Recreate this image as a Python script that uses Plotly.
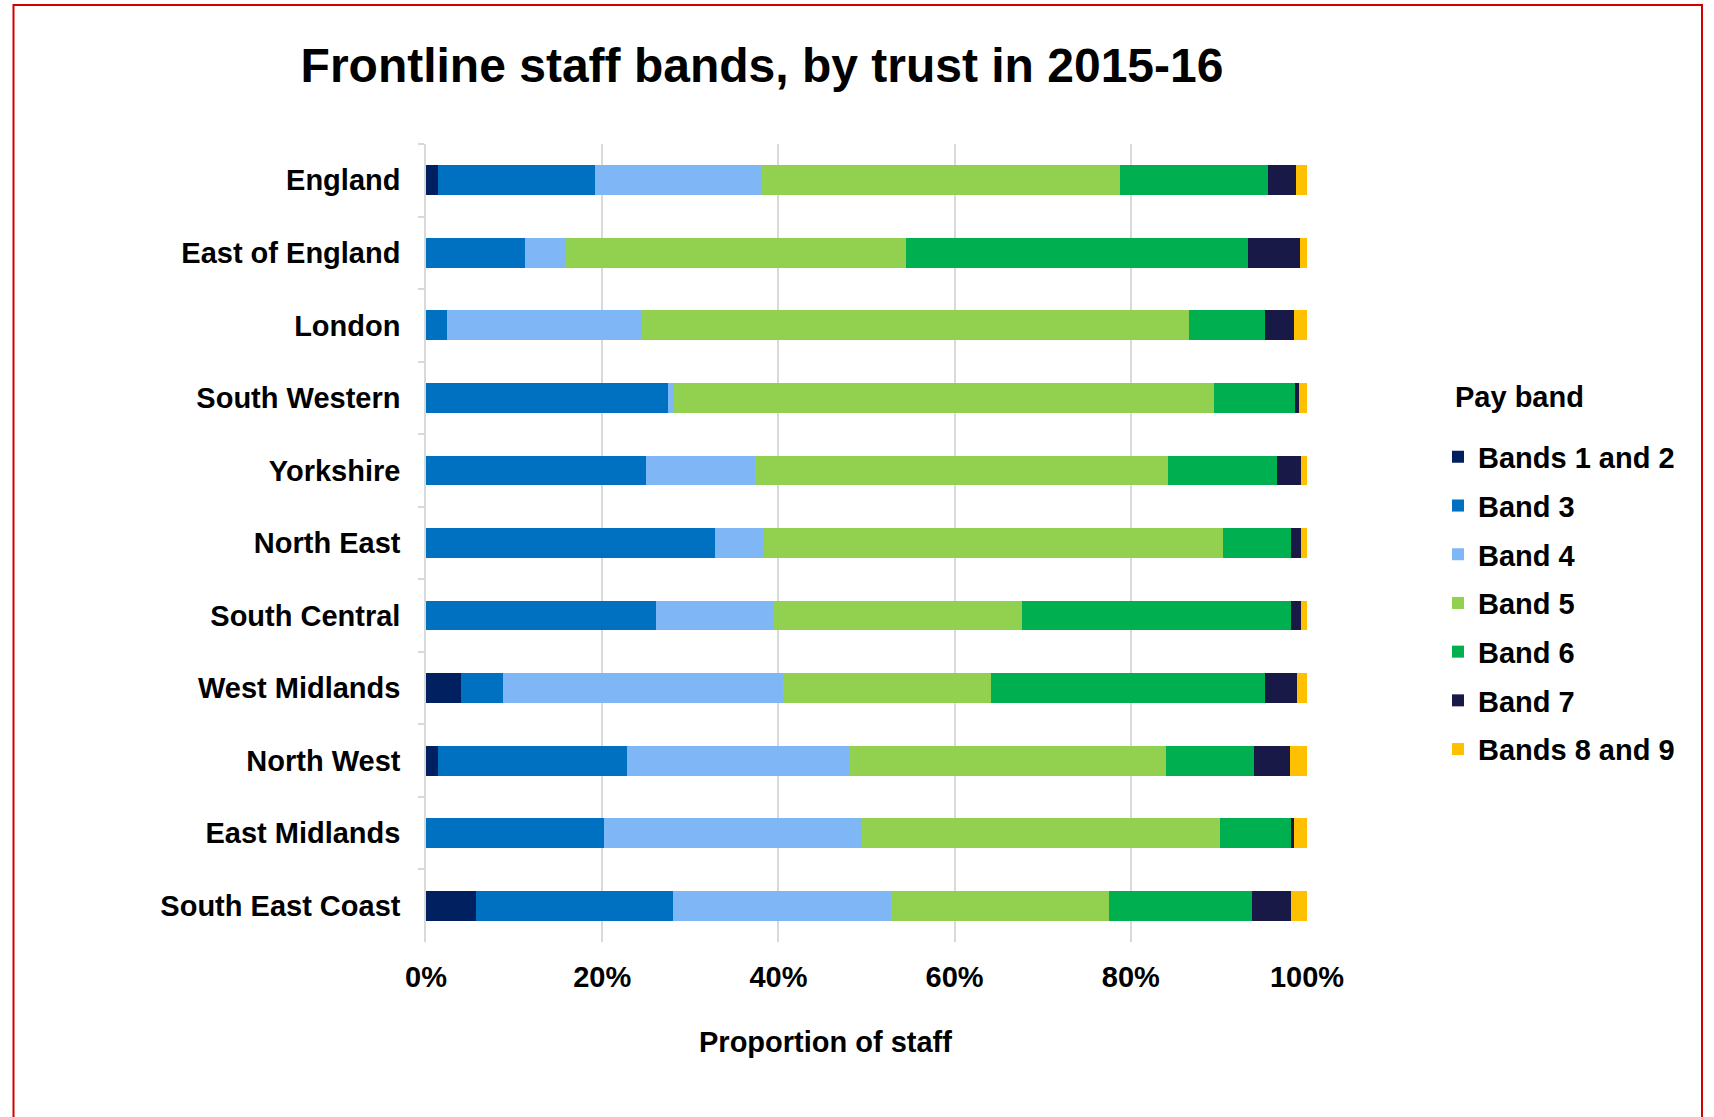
import plotly.graph_objects as go

trusts = ["England", "East of England", "London", "South Western", "Yorkshire",
          "North East", "South Central", "West Midlands", "North West",
          "East Midlands", "South East Coast"]

bands_1_2 = [1.4, 0.0, 0.0, 0.0, 0.0, 0.0, 0.0, 4.0, 1.4, 0.0, 5.7]
band_3 = [17.8, 11.3, 2.4, 27.5, 24.9, 32.8, 26.1, 4.7, 21.4, 20.2, 22.4]
band_4 = [18.8, 4.5, 22.0, 0.7, 12.4, 5.6, 13.4, 31.9, 25.3, 29.3, 24.7]
band_5 = [40.8, 38.7, 62.1, 61.2, 46.8, 52.1, 28.1, 23.6, 35.9, 40.6, 24.8]
band_6 = [16.8, 38.9, 8.6, 9.2, 12.4, 7.7, 30.6, 31.1, 10.0, 8.1, 16.2]
band_7 = [3.1, 5.9, 3.3, 0.5, 2.7, 1.1, 1.1, 3.7, 4.1, 0.3, 4.5]
bands_8_9 = [1.3, 0.8, 1.5, 0.9, 0.7, 0.7, 0.7, 1.1, 1.9, 1.5, 1.8]

series_names = ["Bands 1 and 2", "Band 3", "Band 4", "Band 5", "Band 6", "Band 7", "Bands 8 and 9"]
series_values = [bands_1_2, band_3, band_4, band_5, band_6, band_7, bands_8_9]
series_colors = ["#002060", "#0070C0", "#7EB6F6", "#92D050", "#00B050", "#191947", "#FFC000"]

x_tick_vals = [0, 20, 40, 60, 80, 100]
x_tick_text = ["0%", "20%", "40%", "60%", "80%", "100%"]

FONT = "Liberation Sans, Arial, sans-serif"

fig = go.Figure()
for name, vals, col in zip(series_names, series_values, series_colors):
    fig.add_trace(go.Bar(
        y=trusts, x=vals, name=name, orientation="h",
        marker=dict(color=col, line=dict(width=0)),
        legendgroup=name,
    ))

# plot area in px
L, R, T, B = 426, 1307, 144, 942
W, H = 1714, 1117
pw, ph = R - L, B - T

def px_x(p):
    return (p - L) / pw

def px_y(p):
    return (B - p) / ph

fig.update_layout(
    width=W, height=H,
    margin=dict(l=L, r=W - R, t=T, b=H - B, pad=0),
    paper_bgcolor="white", plot_bgcolor="white",
    barmode="stack", barnorm="percent", bargap=0.59,
    font=dict(family=FONT, size=29, color="black"),
    title=dict(text="<b>Frontline staff bands, by trust in 2015-16</b>",
               x=762 / W, xanchor="center", y=1 - 65 / H, yanchor="middle",
               font=dict(family=FONT, size=48, color="black")),
    xaxis=dict(range=[0, 100], tickvals=x_tick_vals, ticktext=x_tick_text,
               showgrid=True, gridcolor="#D9D9D9", gridwidth=1.5,
               zeroline=False, showline=False, ticks="",
               ticklabelstandoff=15,
               tickfont=dict(family=FONT, size=29, color="black", weight="bold")),
    yaxis=dict(autorange="reversed", type="category",
               showline=True, linecolor="#D9D9D9", linewidth=1.5,
               ticks="outside", tickson="boundaries", ticklen=6, tickcolor="#D9D9D9",
               tickwidth=1.5, ticklabelstandoff=18, showgrid=False,
               tickfont=dict(family=FONT, size=29, color="black", weight="bold")),
    legend=dict(
        x=px_x(1438), xanchor="left", y=px_y(431.5), yanchor="top",
        font=dict(family=FONT, size=29, color="black", weight="bold"),
        tracegroupgap=8, traceorder="grouped", bgcolor="rgba(0,0,0,0)",
    ),
    showlegend=True,
)

# legend heading
fig.add_annotation(
    text="<b>Pay band</b>", xref="paper", yref="paper",
    x=px_x(1453), y=px_y(397), xanchor="left", yanchor="middle",
    showarrow=False, font=dict(family=FONT, size=29, color="black"),
)

fig.add_annotation(
    text="<b>Proportion of staff</b>", xref="paper", yref="paper",
    x=px_x(825), y=px_y(1042), xanchor="center", yanchor="middle",
    showarrow=False, font=dict(family=FONT, size=29, color="black"),
)

# red frame around the chart
fig.add_shape(type="rect", xref="paper", yref="paper",
              x0=px_x(13.5), x1=px_x(1702), y0=px_y(1130), y1=px_y(5),
              line=dict(color="#D40000", width=2), fillcolor="rgba(0,0,0,0)", layer="above")

fig.write_html("out.html")
